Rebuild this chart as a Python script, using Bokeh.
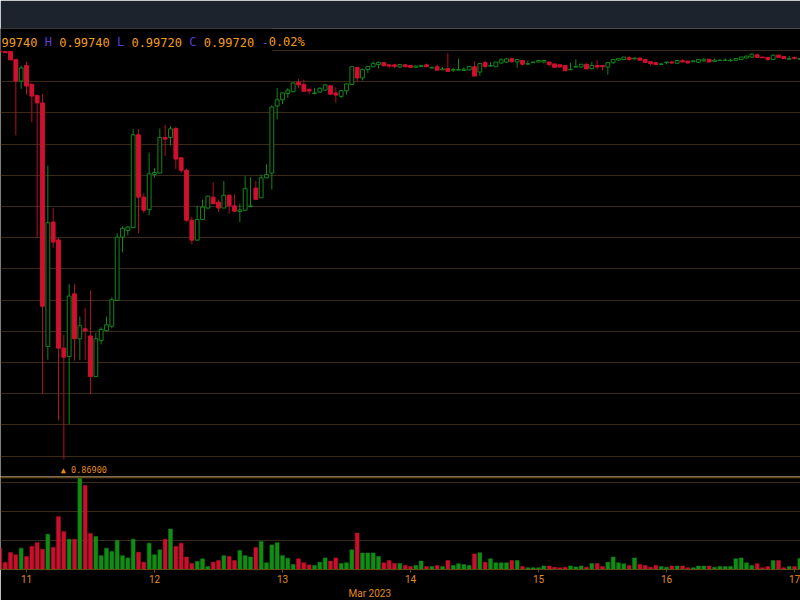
import numpy as np
import pandas as pd
from bokeh.plotting import figure
from bokeh.models import (ColumnDataSource, Range1d, Grid, SingleIntervalTicker, DaysTicker,
                          DatetimeTickFormatter, Span, Label, LabelSet, BoxAnnotation, Title)
from bokeh.core.properties import value
from bokeh.layouts import column
from bokeh.embed import file_html
from bokeh.resources import INLINE

# ---------------- data (hourly candles, USDC/USDT, Mar 10 19:00 -> Mar 17 01:00) ----------------
first_candle = "2023-03-10 19:00"
view_start = "2023-03-10 19:07:30"
view_end = "2023-03-17 01:07:30"

open_ = [0.9998, 0.9997, 0.9997, 0.9971, 0.9902, 0.9952, 0.9892, 0.9856, 0.9832, 0.9051,
         0.9450, 0.9393, 0.9046, 0.9019, 0.9220, 0.9076, 0.9108, 0.9085, 0.8955, 0.9070,
         0.9102, 0.9116, 0.9199, 0.9402, 0.9423, 0.9432, 0.9730, 0.9530, 0.9490, 0.9603,
         0.9607, 0.9721, 0.9721, 0.9750, 0.9656, 0.9616, 0.9456, 0.9392, 0.9458, 0.9495,
         0.9530, 0.9514, 0.9495, 0.9536, 0.9502, 0.9484, 0.9488, 0.9500, 0.9559, 0.9528,
         0.9592, 0.9607, 0.9822, 0.9842, 0.9862, 0.9868, 0.9898, 0.9891, 0.9876, 0.9862,
         0.9867, 0.9873, 0.9887, 0.9864, 0.9853, 0.9871, 0.9891, 0.9946, 0.9912, 0.9939,
         0.9948, 0.9955, 0.9961, 0.9954, 0.9954, 0.9947, 0.9954, 0.9952, 0.9946, 0.9949,
         0.9954, 0.9944, 0.9948, 0.9938, 0.9942, 0.9937, 0.9937, 0.9936, 0.9938, 0.9948,
         0.9931, 0.9961, 0.9950, 0.9948, 0.9960, 0.9963, 0.9974, 0.9963, 0.9968, 0.9956,
         0.9961, 0.9963, 0.9963, 0.9963, 0.9957, 0.9954, 0.9952, 0.9938, 0.9947, 0.9947,
         0.9956, 0.9942, 0.9952, 0.9952, 0.9947, 0.9961, 0.9969, 0.9971, 0.9977, 0.9973,
         0.9976, 0.9971, 0.9964, 0.9961, 0.9955, 0.9961, 0.9963, 0.9959, 0.9967, 0.9966,
         0.9964, 0.9962, 0.9967, 0.9972, 0.9965, 0.9968, 0.9968, 0.9967, 0.9969, 0.9971,
         0.9976, 0.9979, 0.9986, 0.9979, 0.9978, 0.9971, 0.9985, 0.9981, 0.9972, 0.9978,
         0.9972]
high = [0.9999, 0.9997, 0.9997, 0.9972, 0.9952, 0.9965, 0.9893, 0.9856, 0.9861, 0.9631,
        0.9495, 0.9399, 0.9089, 0.9252, 0.9252, 0.9147, 0.9175, 0.9231, 0.9094, 0.9113,
        0.9147, 0.9209, 0.9414, 0.9436, 0.9438, 0.9748, 0.9748, 0.9543, 0.9672, 0.9623,
        0.9750, 0.9762, 0.9758, 0.9755, 0.9659, 0.9621, 0.9468, 0.9502, 0.9522, 0.9533,
        0.9578, 0.9522, 0.9582, 0.9539, 0.9539, 0.9509, 0.9597, 0.9594, 0.9582, 0.9602,
        0.9635, 0.9824, 0.9880, 0.9865, 0.9879, 0.9898, 0.9909, 0.9906, 0.9876, 0.9879,
        0.9882, 0.9893, 0.9887, 0.9882, 0.9873, 0.9893, 0.9948, 0.9946, 0.9942, 0.9949,
        0.9965, 0.9965, 0.9961, 0.9954, 0.9956, 0.9955, 0.9956, 0.9952, 0.9952, 0.9952,
        0.9958, 0.9948, 0.9955, 0.9947, 0.9992, 0.9944, 0.9974, 0.9946, 0.9949, 0.9965,
        0.9958, 0.9967, 0.9963, 0.9963, 0.9976, 0.9976, 0.9974, 0.9971, 0.9970, 0.9968,
        0.9963, 0.9970, 0.9970, 0.9963, 0.9957, 0.9954, 0.9952, 0.9961, 0.9972, 0.9956,
        0.9958, 0.9963, 0.9969, 0.9952, 0.9961, 0.9971, 0.9974, 0.9979, 0.9983, 0.9977,
        0.9976, 0.9973, 0.9964, 0.9961, 0.9961, 0.9963, 0.9967, 0.9968, 0.9972, 0.9966,
        0.9967, 0.9972, 0.9974, 0.9972, 0.9974, 0.9970, 0.9975, 0.9974, 0.9974, 0.9979,
        0.9982, 0.9991, 0.9990, 0.9979, 0.9978, 0.9987, 0.9987, 0.9981, 0.9982, 0.9980,
        0.9974]
low = [0.9995, 0.9992, 0.9970, 0.9728, 0.9877, 0.9858, 0.9770, 0.9400, 0.8900, 0.9009,
       0.9368, 0.8814, 0.8690, 0.8803, 0.9006, 0.9008, 0.9008, 0.8899, 0.8953, 0.9058,
       0.9099, 0.9110, 0.9199, 0.9353, 0.9407, 0.9432, 0.9415, 0.9479, 0.9472, 0.9592,
       0.9607, 0.9662, 0.9695, 0.9620, 0.9607, 0.9451, 0.9379, 0.9392, 0.9458, 0.9493,
       0.9509, 0.9482, 0.9495, 0.9477, 0.9482, 0.9450, 0.9488, 0.9498, 0.9523, 0.9528,
       0.9592, 0.9554, 0.9780, 0.9828, 0.9848, 0.9866, 0.9879, 0.9869, 0.9859, 0.9859,
       0.9864, 0.9871, 0.9857, 0.9833, 0.9847, 0.9859, 0.9891, 0.9898, 0.9904, 0.9928,
       0.9948, 0.9942, 0.9950, 0.9944, 0.9944, 0.9944, 0.9948, 0.9946, 0.9946, 0.9946,
       0.9948, 0.9943, 0.9937, 0.9938, 0.9933, 0.9931, 0.9936, 0.9935, 0.9936, 0.9918,
       0.9918, 0.9942, 0.9948, 0.9948, 0.9958, 0.9961, 0.9961, 0.9944, 0.9952, 0.9955,
       0.9961, 0.9963, 0.9959, 0.9948, 0.9946, 0.9947, 0.9935, 0.9938, 0.9945, 0.9945,
       0.9941, 0.9939, 0.9939, 0.9936, 0.9922, 0.9957, 0.9967, 0.9969, 0.9967, 0.9971,
       0.9967, 0.9960, 0.9952, 0.9955, 0.9954, 0.9955, 0.9957, 0.9959, 0.9963, 0.9960,
       0.9964, 0.9960, 0.9964, 0.9963, 0.9965, 0.9967, 0.9967, 0.9965, 0.9967, 0.9969,
       0.9974, 0.9977, 0.9977, 0.9977, 0.9967, 0.9969, 0.9976, 0.9974, 0.9971, 0.9972,
       0.9972]
close = [0.9996, 0.9993, 0.9970, 0.9902, 0.9944, 0.9886, 0.9854, 0.9832, 0.9180, 0.9448,
         0.9386, 0.9046, 0.9017, 0.9213, 0.9076, 0.9118, 0.9101, 0.8955, 0.9076, 0.9106,
         0.9121, 0.9201, 0.9402, 0.9430, 0.9434, 0.9730, 0.9530, 0.9488, 0.9605, 0.9609,
         0.9721, 0.9716, 0.9749, 0.9652, 0.9616, 0.9456, 0.9392, 0.9458, 0.9498, 0.9533,
         0.9509, 0.9495, 0.9536, 0.9502, 0.9485, 0.9489, 0.9557, 0.9502, 0.9523, 0.9592,
         0.9602, 0.9819, 0.9842, 0.9864, 0.9873, 0.9896, 0.9890, 0.9869, 0.9870, 0.9864,
         0.9879, 0.9890, 0.9860, 0.9857, 0.9871, 0.9893, 0.9948, 0.9912, 0.9939, 0.9949,
         0.9958, 0.9962, 0.9951, 0.9950, 0.9949, 0.9955, 0.9948, 0.9946, 0.9950, 0.9952,
         0.9948, 0.9946, 0.9937, 0.9941, 0.9933, 0.9939, 0.9939, 0.9940, 0.9949, 0.9918,
         0.9958, 0.9949, 0.9952, 0.9963, 0.9970, 0.9973, 0.9964, 0.9971, 0.9956, 0.9958,
         0.9963, 0.9968, 0.9968, 0.9955, 0.9946, 0.9947, 0.9935, 0.9940, 0.9949, 0.9956,
         0.9941, 0.9952, 0.9947, 0.9948, 0.9961, 0.9971, 0.9974, 0.9979, 0.9971, 0.9976,
         0.9969, 0.9962, 0.9958, 0.9955, 0.9957, 0.9963, 0.9960, 0.9968, 0.9963, 0.9960,
         0.9967, 0.9971, 0.9972, 0.9963, 0.9969, 0.9969, 0.9969, 0.9969, 0.9974, 0.9979,
         0.9982, 0.9988, 0.9978, 0.9977, 0.9971, 0.9985, 0.9978, 0.9974, 0.9974, 0.9974,
         0.9974]
volume = [7.4, 2.4, 5.9, 5.1, 7.4,
          4.5, 8.0, 9.3, 7.0, 12.2, 7.6, 18.3, 13.1, 10.5, 10.5,
          31.6, 29.1, 12.5, 11.4, 4.8, 7.4, 6.2, 10.0, 4.8, 4.0,
          10.5, 6.0, 2.5, 9.1, 5.1, 6.8, 10.5, 14.0, 8.0, 9.1,
          4.3, 2.1, 2.8, 3.7, 1.0, 2.5, 3.1, 4.8, 4.5, 3.1,
          6.6, 4.8, 4.3, 7.6, 9.7, 2.3, 8.5, 9.3, 4.8, 3.9,
          1.7, 3.7, 2.3, 1.6, 1.4, 2.5, 4.0, 2.9, 4.0, 2.1,
          2.3, 6.8, 12.6, 5.7, 5.7, 5.7, 4.5, 2.3, 3.1, 2.1,
          2.1, 1.4, 1.0, 1.4, 2.9, 1.0, 1.0, 1.4, 1.0, 3.1,
          1.4, 2.0, 1.7, 1.4, 5.4, 5.8, 2.5, 3.7, 2.3, 2.3,
          2.3, 3.1, 3.1, 1.0, 0.6, 0.6, 0.6, 1.2, 1.2, 0.8,
          0.6, 0.8, 1.2, 0.9, 1.2, 0.8, 2.1, 2.1, 1.0, 2.5,
          4.3, 2.3, 2.0, 1.4, 4.0, 1.7, 1.4, 0.8, 1.4, 1.0,
          0.8, 1.2, 1.2, 1.2, 0.6, 0.6, 1.2, 1.2, 1.2, 0.8,
          1.0, 1.0, 1.0, 3.7, 4.0, 2.3, 1.4, 2.0, 0.6, 1.0,
          3.1, 3.1, 0.6, 1.0, 1.0, 3.8]

legend_o, legend_h, legend_l, legend_c, legend_chg = "0.99740", "0.99740", "0.99720", "0.99720", "0.02%"
legend_sign = "-"
month_label = "Mar 2023"

# ---------------- styles ----------------
BG = "#000000"
BAND = "#1c232c"
GRID = "#3c2b14"
SEP = "#6a4918"
ORANGE = "#f29c20"
AXIS_ORANGE = "#e38b1c"
PURPLE = "#5a3ed8"
UP = "#12871a"
DOWN = "#cf102f"
DOWN_WICK = "#b10f28"

times = pd.date_range(first_candle, periods=len(open_), freq="h")
o = np.array(open_); h = np.array(high); l = np.array(low); c = np.array(close)
up = c >= o
src = ColumnDataSource(dict(
    t=times, o=o, h=h, l=l, c=c,
    top=np.maximum(o, c), bottom=np.minimum(o, c),
    fill=np.where(up, BG, DOWN), line=np.where(up, UP, DOWN),
    wick=np.where(up, UP, DOWN_WICK),
    vol=np.array(volume), vcol=np.where(up, "#118c14", "#c8102e"),
))

bar_w = 0.72 * 3600 * 1000
xr = Range1d(pd.Timestamp(view_start), pd.Timestamp(view_end))

W = 800
TOPBAND = 28
FRAME_P = 448
VOL_FRAME = 93
AXIS_H = 31
price_top = 1.00705
price_bot = 0.86346

p = figure(width=W, height=TOPBAND + FRAME_P, x_range=xr, y_range=Range1d(price_bot, price_top),
           x_axis_type="datetime", x_axis_location=None, y_axis_location=None,
           toolbar_location=None, output_backend="svg",
           background_fill_color=BG, border_fill_color=BAND, outline_line_color=None,
           min_border_top=TOPBAND, min_border_left=0, min_border_right=0, min_border_bottom=0)
p.xgrid.visible = False
p.ygrid.visible = False
p.add_layout(Grid(dimension=1, ticker=SingleIntervalTicker(interval=0.01),
                  grid_line_color=GRID, grid_line_width=1))

# cover behind the legend text (hides the grid line there)
span_ms = (xr.end - xr.start).total_seconds() * 1000
legend_right = pd.Timestamp(view_start) + pd.Timedelta(milliseconds=span_ms * 0.34)
p.add_layout(BoxAnnotation(left=pd.Timestamp(view_start), right=legend_right,
                           top=price_top, bottom=0.99985, fill_color=BG, fill_alpha=1,
                           line_color=None, level="underlay"))

p.segment(x0="t", y0="h", x1="t", y1="l", line_color="wick", line_width=1, source=src)
p.vbar(x="t", width=bar_w, top="top", bottom="bottom", fill_color="fill",
       line_color="line", line_width=1, source=src)

# OHLC legend
fs = 12
adv = 0.602 * fs
x0 = -28
segs = [("O", 0, PURPLE), (legend_o, 2, ORANGE), ("H", 10, PURPLE), (legend_h, 12, ORANGE),
        ("L", 20, PURPLE), (legend_l, 22, ORANGE), ("C", 30, PURPLE), (legend_c, 32, ORANGE),
        (legend_sign, 40, PURPLE), (legend_chg, 41, ORANGE)]
lsrc = ColumnDataSource(dict(text=[s[0] for s in segs],
                             x=[x0 + s[1] * adv for s in segs],
                             y=[FRAME_P - 13.5] * len(segs),
                             color=[s[2] for s in segs]))
p.add_layout(LabelSet(x="x", y="y", text="text", source=lsrc, x_units="screen", y_units="screen",
                      text_color="color", text_font=value("DejaVu Sans Mono"),
                      text_font_size=value(f"{fs}px"), text_baseline="middle", text_align="left"))

# lowest price marker
imin = int(np.argmin(l))
p.add_layout(Label(x=times[imin].value / 1e6, y=l[imin], text=f"▲ {l[imin]:.5f}",
                   x_offset=-3, y_offset=-6, text_baseline="top", text_align="left",
                   text_color=AXIS_ORANGE, text_font="DejaVu Sans Mono", text_font_size="8.5px"))

# ---------------- volume pane ----------------
vol_top = 32.2
v = figure(width=W, height=VOL_FRAME + AXIS_H, x_range=xr, y_range=Range1d(0, vol_top),
           x_axis_type="datetime", y_axis_location=None,
           toolbar_location=None, output_backend="svg",
           background_fill_color=BG, border_fill_color=BG, outline_line_color=None,
           min_border_top=0, min_border_left=0, min_border_right=0, min_border_bottom=AXIS_H)
v.xgrid.visible = False
v.ygrid.visible = False
v.add_layout(Grid(dimension=1, ticker=SingleIntervalTicker(interval=10),
                  grid_line_color=GRID, grid_line_width=1))
v.add_layout(Span(location=vol_top - 0.3, dimension="width", line_color=SEP, line_width=2))
v.vbar(x="t", width=bar_w, top="vol", bottom=0, fill_color="vcol", line_color="vcol",
       line_width=0.5, source=src)

ax = v.xaxis[0]
ax.ticker = DaysTicker(days=list(range(1, 32)))
ax.formatter = DatetimeTickFormatter(days="%d", months="%b %Y", hours="%H:%M")
ax.axis_line_color = "#5e4f16"
ax.major_tick_line_color = "#5e4f16"
ax.major_tick_out = 3
ax.major_tick_in = 0
ax.minor_tick_line_color = None
ax.major_label_text_color = AXIS_ORANGE
ax.major_label_text_font = "Roboto"
ax.major_label_text_font_size = "10px"
ax.major_label_standoff = 2

v.add_layout(Title(text=month_label, align="left", offset=348, text_color=AXIS_ORANGE,
                   text_font="Roboto", text_font_size="10px", text_font_style="normal",
                   standoff=0), "below")

layout = column(p, v, spacing=0)
open("out.html", "w").write(file_html(layout, INLINE))
